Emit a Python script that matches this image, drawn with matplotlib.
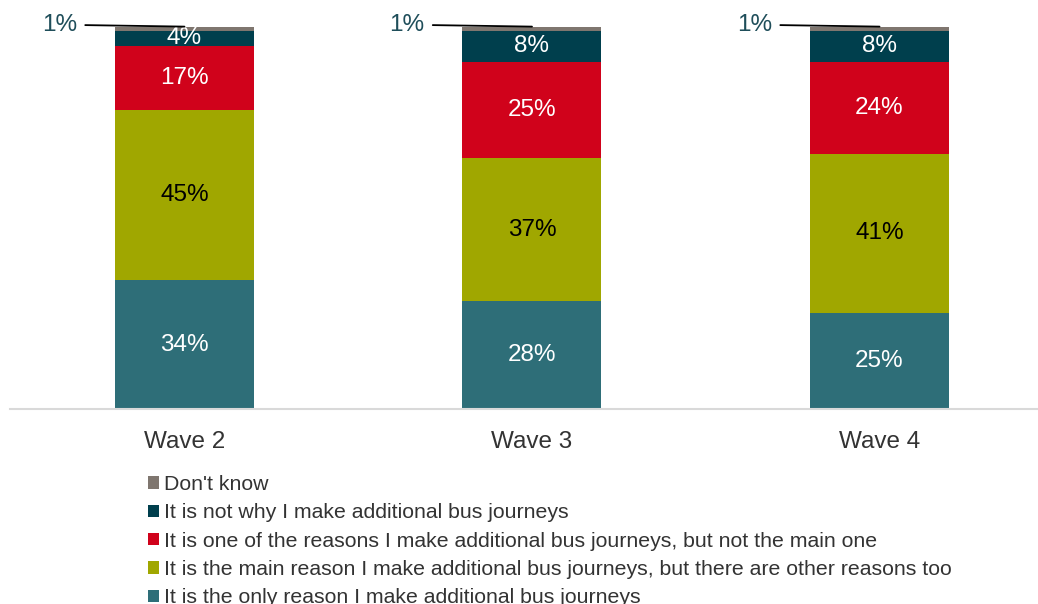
import numpy as np
import matplotlib
matplotlib.use("Agg")
import matplotlib.pyplot as plt
from matplotlib.patches import Patch

plt.rcParams['font.family'] = ['Liberation Sans', 'DejaVu Sans']

waves = ["Wave 2", "Wave 3", "Wave 4"]
only_reason = [34, 28, 25]
main_reason = [45, 37, 41]
one_of_reasons = [17, 25, 24]
not_why = [4, 8, 8]
dont_know = [1, 1, 1]

series_names = [
    "It is the only reason I make additional bus journeys",
    "It is the main reason I make additional bus journeys, but there are other reasons too",
    "It is one of the reasons I make additional bus journeys, but not the main one",
    "It is not why I make additional bus journeys",
    "Don't know",
]
series_vals = [only_reason, main_reason, one_of_reasons, not_why, dont_know]
colors = ["#2e6e78", "#a0a700", "#d0021b", "#003f4d", "#7f766f"]
label_colors = ["white", "black", "white", "white", None]

data = np.array(series_vals, dtype=float)
share = data / data.sum(axis=0) * 100  # 100% stacked

fig = plt.figure(figsize=(10.38, 6.04), dpi=100)
ax = fig.add_axes([10 / 1038, 1 - 409 / 604, 1028 / 1038, 382 / 604])

x = np.arange(len(waves))
bottom = np.zeros(len(waves))
for i, (name, col) in enumerate(zip(series_names, colors)):
    ax.bar(x, share[i], bottom=bottom, width=0.4, color=col, label=name)
    if label_colors[i] is not None:
        for j in range(len(waves)):
            ax.text(x[j], bottom[j] + share[i][j] / 2, f"{int(data[i][j])}%",
                    ha="center", va="center", fontsize=17.5, color=label_colors[i])
    bottom += share[i]

# "Don't know" labels placed to the left with a leader line
for j in range(len(waves)):
    ax.annotate(f"{int(dont_know[j])}%", xy=(x[j], 100.1), xytext=(x[j] - 0.36, 100.6),
                ha="center", va="center", fontsize=17.5, color="#1f4e5a",
                annotation_clip=False,
                arrowprops=dict(arrowstyle="-", color="black", lw=1.3,
                                shrinkA=4, shrinkB=0))

ax.set_xlim(-0.502, 2.456)
ax.set_ylim(0, 100)
ax.set_xticks(x)
ax.set_xticklabels(waves, fontsize=17.5, color="#333333")
ax.tick_params(axis="x", length=0, pad=16)
ax.set_yticks([])
for s in ["top", "right", "left"]:
    ax.spines[s].set_visible(False)
ax.spines["bottom"].set_color("#d9d9d9")
ax.spines["bottom"].set_linewidth(1.5)

handles = [Patch(facecolor=c, edgecolor="none") for c in colors][::-1]
labels = series_names[::-1]
fig.legend(handles, labels, loc="upper left", bbox_to_anchor=(148 / 1038, 1 - 475 / 604),
           frameon=False, fontsize=15.3, handlelength=0.5, handleheight=0.5,
           handletextpad=0.25, labelspacing=0.44, borderpad=0, borderaxespad=0,
           labelcolor="#333333")

fig.savefig("out.png", dpi=100)
